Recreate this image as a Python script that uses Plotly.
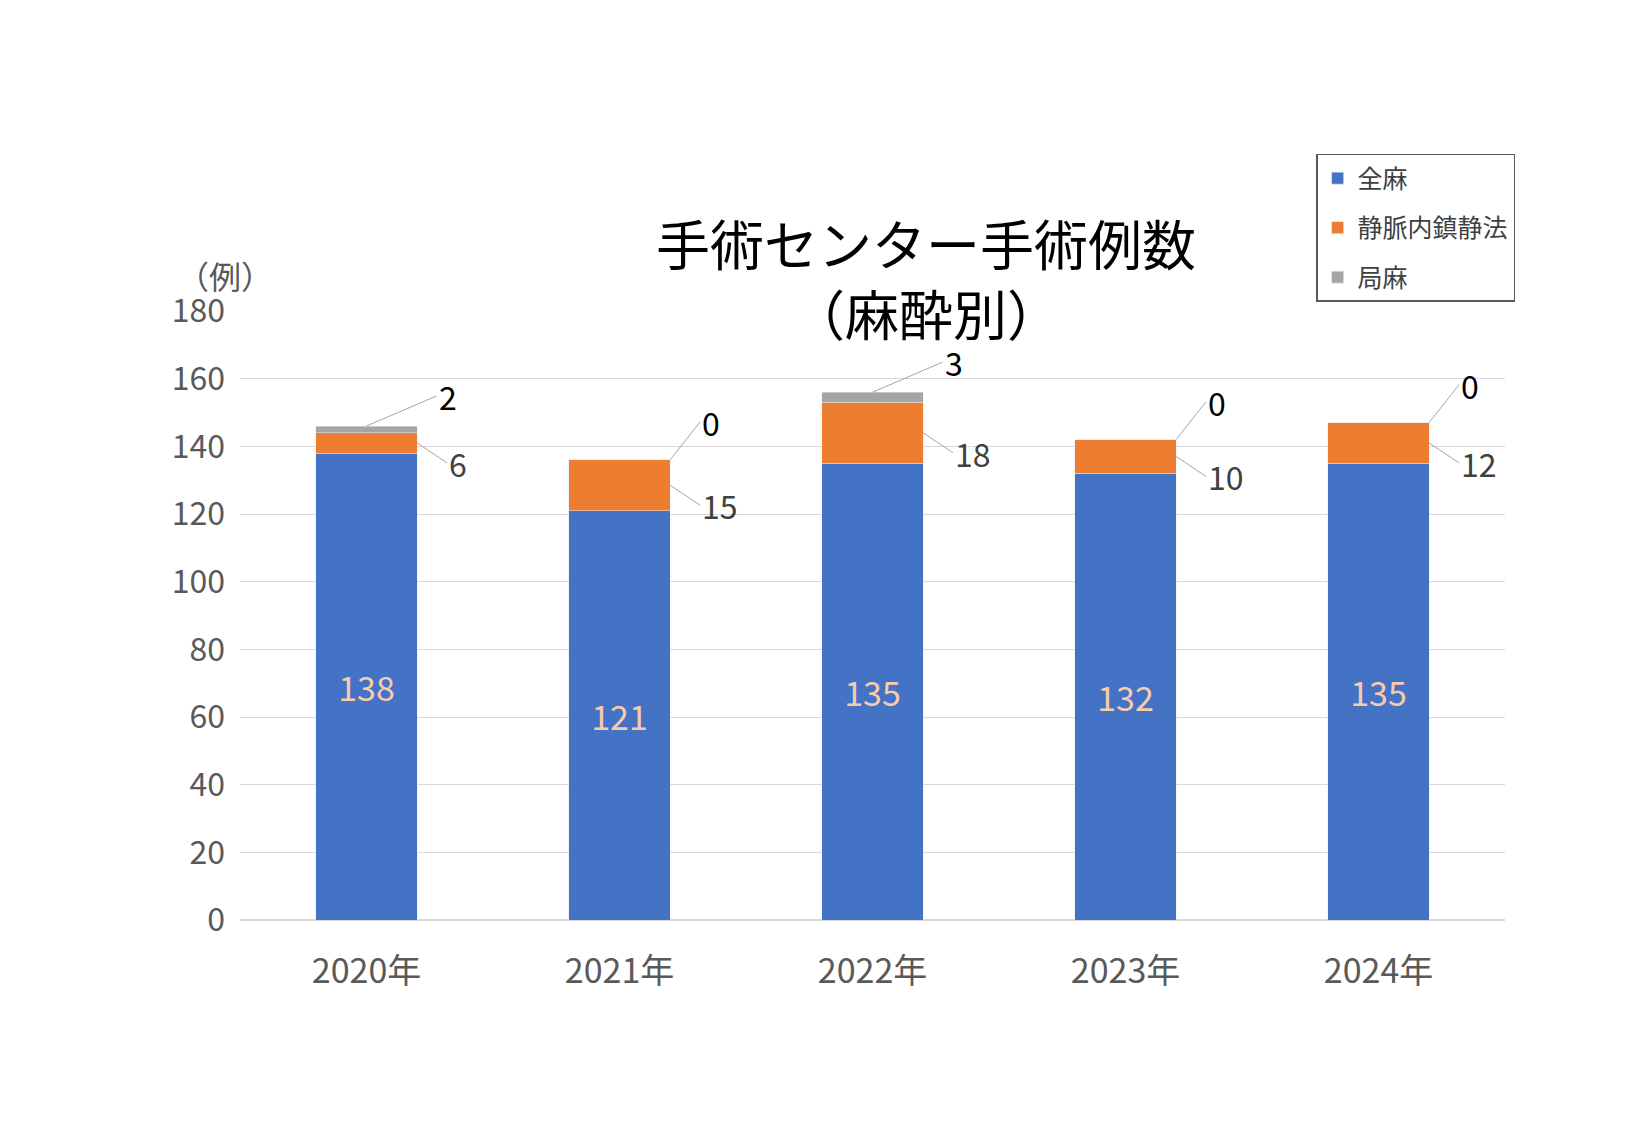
import plotly.graph_objects as go

years = ["2020年", "2021年", "2022年", "2023年", "2024年"]
general = [138, 121, 135, 132, 135]
sedation = [6, 15, 18, 10, 12]
local = [2, 0, 3, 0, 0]

F = "Noto Sans CJK JP"
x = list(range(len(years)))
fig = go.Figure()
fig.add_bar(x=x, y=general, name="全麻", marker_color="#4472C4", width=0.4,
            legendgroup="a", text=general, textposition="inside", insidetextanchor="middle",
            textfont=dict(color="#F8CBAD", size=34, family=F))
fig.add_bar(x=x, y=sedation, name="静脈内鎮静法", marker_color="#ED7D31", width=0.4,
            legendgroup="b")
fig.add_bar(x=x, y=local, name="局麻", marker_color="#A5A5A5", width=0.4, legendgroup="c")

ann = []
for i in x:
    base = general[i]
    ann.append(dict(x=i + 0.2, y=base + sedation[i] / 2, xref="x", yref="y",
                    text=str(sedation[i]), showarrow=True, arrowhead=0, arrowwidth=1,
                    arrowcolor="#A5A5A5", ax=30, ay=20, xanchor="left",
                    font=dict(size=32, color="#404040", family=F)))
    tot = base + sedation[i] + local[i]
    if local[i] > 0:
        ann.append(dict(x=i, y=tot, xref="x", yref="y", text=str(local[i]),
                        showarrow=True, arrowhead=0, arrowwidth=1, arrowcolor="#A5A5A5",
                        ax=70, ay=-30, xanchor="left",
                        font=dict(size=32, color="#000000", family=F)))
    else:
        ann.append(dict(x=i + 0.2, y=tot, xref="x", yref="y", text="0",
                        showarrow=True, arrowhead=0, arrowwidth=1, arrowcolor="#A5A5A5",
                        ax=30, ay=-38, xanchor="left",
                        font=dict(size=32, color="#000000", family=F)))
ann.append(dict(x=-0.051, y=1.10, xref="paper", yref="paper", text="（例）", showarrow=False,
                font=dict(size=32, color="#595959", family=F)))
ann.append(dict(x=0.327, y=1.18, xref="paper", yref="paper",
                text="手術センター手術例数<br>（麻酔別）", showarrow=False,
                font=dict(size=54, color="#000000", family=F)))

fig.update_layout(
    barmode="stack", width=1625, height=1125, plot_bgcolor="white", paper_bgcolor="white",
    margin=dict(l=232, r=128, t=303, b=213, autoexpand=False),
    font=dict(family=F),
    annotations=ann,
    legend=dict(traceorder="reversed+grouped", x=1.008, xanchor="right", y=1.258, yanchor="top",
                bordercolor="#595959", borderwidth=1.5, tracegroupgap=14,
                font=dict(size=25, color="#404040", family=F)),
    showlegend=True,
)
fig.update_xaxes(tickvals=x, ticktext=years, range=[-0.5, 4.5], showline=False,
                 tickfont=dict(size=34, color="#595959", family=F), ticks="",
                 ticklabelstandoff=28)
fig.update_yaxes(range=[0, 180], dtick=20, gridcolor="#D9D9D9", zeroline=True,
                 zerolinecolor="#D9D9D9", tickfont=dict(size=32, color="#595959", family=F),
                 ticklabelstandoff=14)
fig.write_html("out.html")
